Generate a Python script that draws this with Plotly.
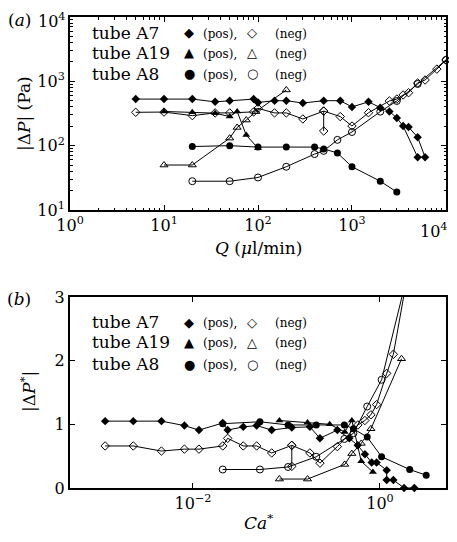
import plotly.graph_objects as go

# ---------------- panel (a): |dP| (Pa) vs Q (ul/min) ----------------
q_a7_pos = [5, 10, 20, 35, 50, 90, 100, 150, 200, 300, 500, 750, 1000, 1500, 2000, 2500, 3000, 3500, 5000, 6000, 5000, 4000]
dp_a7_pos = [530, 530, 530, 480, 500, 530, 470, 500, 500, 460, 500, 500, 400, 480, 390, 340, 270, 202, 66, 66, 135, 195]
q_a7_neg = [5, 10, 20, 35, 50, 90, 100, 150, 200, 300, 500, 750, 1000, 1500, 2500, 3000, 3500, 4000, 5000, 6000, 8000, 10000]
dp_a7_neg = [330, 333, 293, 323, 323, 335, 380, 323, 323, 260, 345, 283, 202, 325, 495, 530, 614, 665, 944, 1050, 1550, 2150]
q_a7_neg_repeat = [500, 500]
dp_a7_neg_repeat = [345, 169]
q_a19_pos = [10, 20, 35, 50, 60, 75, 100]
dp_a19_pos = [340, 330, 320, 283, 340, 146, 91]
q_a19_neg = [10, 20, 50, 60, 75, 95, 200]
dp_a19_neg = [50, 50, 131, 192, 250, 338, 735]
q_a8_pos = [20, 50, 100, 200, 400, 500, 700, 1000, 2000, 3000]
dp_a8_pos = [97, 100, 95, 95, 95, 89, 77, 47, 28, 19]
q_a8_neg = [20, 50, 100, 200, 400, 500, 700, 1000, 2000, 3000, 5000, 10000]
dp_a8_neg = [28, 28, 32, 47, 74, 83, 123, 163, 338, 495, 910, 2150]

# ---------------- panel (b): |dP*| vs Ca* ----------------
ca_a7_pos = [0.00115, 0.0023, 0.0046, 0.0081, 0.0116, 0.0208, 0.0235, 0.0345, 0.048, 0.0695, 0.114, 0.178,
             0.228, 0.35, 0.47, 0.578, 0.69, 0.815, 0.92, 1.18, 1.18, 1.39, 1.81, 2.33]
ps_a7_pos = [1.05, 1.05, 1.05, 0.98, 0.91, 1.02, 0.91, 0.96, 0.98, 0.91, 0.95, 0.96,
             0.78, 0.91, 0.78, 0.67, 0.53, 0.40, 0.40, 0.28, 0.125, 0.125, 0.0, 0.0]
ca_a7_neg = [0.00115, 0.0023, 0.0046, 0.0081, 0.0116, 0.0208, 0.0235, 0.0345, 0.048, 0.0695, 0.114, 0.178,
             0.228, 0.35, 0.58, 0.69, 0.80, 0.92, 1.18, 1.39, 1.84, 2.3]
ps_a7_neg = [0.66, 0.66, 0.58, 0.61, 0.61, 0.66, 0.78, 0.66, 0.66, 0.55, 0.67, 0.55,
             0.39, 0.65, 0.99, 1.06, 1.15, 1.31, 1.80, 2.10, 3.1, 4.3]
ca_a7_neg_repeat = [0.114, 0.114]
ps_a7_neg_repeat = [0.67, 0.34]
ca_a19_pos = [0.084, 0.168, 0.29, 0.42, 0.50, 0.63, 0.84]
ps_a19_pos = [1.06, 1.03, 1.0, 0.88, 1.06, 0.42, 0.25]
ca_a19_neg = [0.084, 0.168, 0.42, 0.50, 0.63, 0.80, 1.70]
ps_a19_neg = [0.14, 0.14, 0.37, 0.54, 0.70, 0.93, 2.03]
ca_a8_pos = [0.0208, 0.052, 0.104, 0.208, 0.416, 0.52, 0.73, 1.04, 2.08, 3.12]
ps_a8_pos = [1.01, 1.04, 0.99, 0.99, 0.99, 0.93, 0.80, 0.49, 0.29, 0.20]
ca_a8_neg = [0.0208, 0.052, 0.104, 0.208, 0.416, 0.52, 0.73, 1.04, 2.08, 3.12, 5.2, 10.4]
ps_a8_neg = [0.29, 0.29, 0.33, 0.49, 0.77, 0.86, 1.28, 1.70, 3.5, 5.2, 9.5, 22.0]

legend_tubes = ["tube A7", "tube A19", "tube A8"]
legend_pos_sym = ["◆", "▲", "●"]
legend_neg_sym = ["◇", "△", "○"]

# ---------------- geometry ----------------
# The html page body has an 8 px margin on every side, so the figure is sized to
# fit inside the window minus that margin; positions below are in page pixels.
OFF = 8
PAGE_W, PAGE_H = 457, 542
W, H = PAGE_W - 2 * OFF, PAGE_H - 2 * OFF
PLOT_L, PLOT_R, PLOT_T, PLOT_B = 70, 446, 17, 488     # plot box in page pixels
L, R, T, B = PLOT_L - OFF, W - (PLOT_R - OFF), PLOT_T - OFF, H - (PLOT_B - OFF)
PW, PH = W - L - R, H - T - B


def px(x):
    return (x - PLOT_L) / PW


def py(y):
    return (PLOT_B - y) / PH


SERIF = "DejaVu Serif"
fig = go.Figure()

MS = {"diamond": 6.5, "triangle-up": 7, "circle": 7}


def add(x, y, sym, filled, xa, ya, clip):
    fig.add_trace(go.Scatter(
        x=x, y=y, mode="lines+markers", xaxis=xa, yaxis=ya, cliponaxis=clip,
        line=dict(color="black", width=1),
        marker=dict(symbol=sym if filled else sym + "-open", size=MS[sym], color="black",
                    line=dict(color="black", width=0 if filled else 1)),
        showlegend=False, hoverinfo="x+y"))


# panel (a)
add(q_a7_pos, dp_a7_pos, "diamond", True, "x", "y", False)
add(q_a7_neg, dp_a7_neg, "diamond", False, "x", "y", False)
add(q_a7_neg_repeat, dp_a7_neg_repeat, "diamond", False, "x", "y", False)
add(q_a19_pos, dp_a19_pos, "triangle-up", True, "x", "y", False)
add(q_a19_neg, dp_a19_neg, "triangle-up", False, "x", "y", False)
add(q_a8_pos, dp_a8_pos, "circle", True, "x", "y", False)
add(q_a8_neg, dp_a8_neg, "circle", False, "x", "y", False)

# panel (b)
add(ca_a7_pos, ps_a7_pos, "diamond", True, "x2", "y2", False)
add(ca_a7_neg, ps_a7_neg, "diamond", False, "x2", "y2", True)
add(ca_a7_neg_repeat, ps_a7_neg_repeat, "diamond", False, "x2", "y2", False)
add(ca_a19_pos, ps_a19_pos, "triangle-up", True, "x2", "y2", False)
add(ca_a19_neg, ps_a19_neg, "triangle-up", False, "x2", "y2", False)
add(ca_a8_pos, ps_a8_pos, "circle", True, "x2", "y2", False)
add(ca_a8_neg, ps_a8_neg, "circle", False, "x2", "y2", True)

common = dict(showline=True, linewidth=2, linecolor="black", mirror="ticks", ticks="inside",
              ticklen=5, tickwidth=1, tickcolor="black", showgrid=False, zeroline=False,
              ticklabeloverflow="allow", automargin=False,
              tickfont=dict(family=SERIF, size=16, color="black"))

minor_a_x = [m * 10 ** e for e in range(0, 4) for m in range(2, 10)]
minor_a_y = [m * 10 ** e for e in range(1, 4) for m in range(2, 10)]

top_dom = [py(210), 1.0]
bot_dom = [0.0, py(297)]
EPS = 0.0005

# the edge tick labels (last Q, top |dP|) would be cut by the figure edge; they are
# drawn as annotations pulled slightly inside
q_ticks = [1, 10, 100, 1000, 10000]
q_ticktext = ["10<sup>0</sup>", "10<sup>1</sup>", "10<sup>2</sup>", "10<sup>3</sup>", ""]
p_ticks = [10, 100, 1000, 10000]
p_ticktext = ["10<sup>1</sup>", "10<sup>2</sup>", "10<sup>3</sup>", ""]

fig.update_layout(
    width=W, height=H, margin=dict(l=L, r=R, t=T, b=B, autoexpand=False),
    paper_bgcolor="white", plot_bgcolor="white", showlegend=False,
    xaxis=dict(type="log", range=[0 - EPS, 4 + EPS], domain=[0, 1], anchor="y",
               tickvals=q_ticks, ticktext=q_ticktext,
               minor=dict(tickvals=minor_a_x, ticks="inside", ticklen=2.5, tickcolor="black", showgrid=False),
               **common),
    yaxis=dict(type="log", range=[1 - EPS, 4 + EPS], domain=top_dom, anchor="x",
               tickvals=p_ticks, ticktext=p_ticktext,
               minor=dict(tickvals=minor_a_y, ticks="inside", ticklen=2.5, tickcolor="black", showgrid=False),
               **common),
    xaxis2=dict(type="log", range=[-3.315, 0.706], domain=[0, 1], anchor="y2",
                tickvals=[0.01, 1], ticktext=["10<sup>−2</sup>", "10<sup>0</sup>"], **common),
    yaxis2=dict(range=[0 - EPS, 3 + EPS], domain=bot_dom, anchor="x2", tickvals=[0, 1, 2, 3], **common),
)

ann = []


def text(x, y, s, size=17, anchor="center", angle=0, family=SERIF, vanchor="middle"):
    ann.append(dict(x=px(x), y=py(y), xref="paper", yref="paper", text=s, showarrow=False,
                    xanchor=anchor, yanchor=vanchor, textangle=angle,
                    font=dict(family=family, size=size, color="black")))


text(PAGE_W - OFF, 230, "10<sup>4</sup>", size=16, anchor="right")
text(67, OFF, "10<sup>4</sup>", size=16, anchor="right", vanchor="top")

# panel labels and axis titles
text(19, 20, "(<i>a</i>)")
text(19, 299, "(<i>b</i>)")
text(258, 248, "<i>Q</i> (<i>μ</i>l/min)")
text(258, 522, "<i>Ca</i><sup>*</sup>")
text(24, 114, "|Δ<i>P</i>| (Pa)", angle=-90)
text(28, 392, "|Δ<i>P</i><sup>*</sup>|", angle=-90)

# legends inside each panel
for rows in ([33, 53, 74], [322, 342, 364]):
    for i, yy in enumerate(rows):
        text(90, yy, legend_tubes[i], size=17, anchor="left")
        text(189, yy, legend_pos_sym[i], size=13, family="DejaVu Sans")
        text(201, yy + 1, "(pos),", size=12, anchor="left")
        text(252, yy, legend_neg_sym[i], size=13, family="DejaVu Sans")
        text(273, yy + 1, "(neg)", size=12, anchor="left")

fig.update_layout(annotations=ann)
fig.write_html("out.html")
